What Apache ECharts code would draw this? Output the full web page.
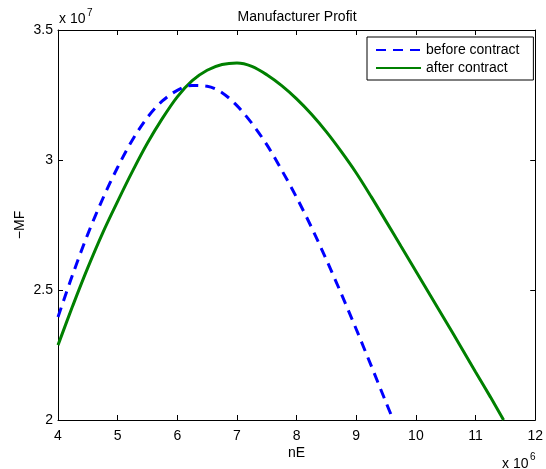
<!DOCTYPE html>
<html>
<head>
<meta charset="utf-8">
<script src="https://cdn.jsdelivr.net/npm/echarts@6/dist/echarts.min.js"></script>
<style>
  html, body { margin: 0; padding: 0; background: #fff; }
  #chart { width: 546px; height: 469px; }
</style>
</head>
<body>
<div id="chart"></div>
<script>
// nE in units of 10^6, MF in units of 10^7
const beforeNE = [4.0, 4.25, 4.5, 4.75, 5.0, 5.25, 5.5, 5.75, 6.0, 6.25, 6.5, 6.75, 7.0, 7.25, 7.5, 7.75, 8.0, 8.25, 8.5, 8.75, 9.0, 9.25, 9.5, 9.62];
const beforeMF = [2.396, 2.562, 2.715, 2.851, 2.972, 3.078, 3.164, 3.227, 3.268, 3.287, 3.284, 3.259, 3.209, 3.141, 3.059, 2.961, 2.856, 2.741, 2.616, 2.485, 2.349, 2.209, 2.067, 2.000];
const afterNE = [4.0, 4.25, 4.5, 4.75, 5.0, 5.25, 5.5, 5.75, 6.0, 6.25, 6.5, 6.75, 7.0, 7.25, 7.5, 7.75, 8.0, 8.25, 8.5, 8.75, 9.0, 9.25, 9.5, 9.75, 10.0, 10.25, 10.5, 10.75, 11.0, 11.25, 11.47];
const afterMF = [2.288, 2.441, 2.586, 2.720, 2.841, 2.957, 3.065, 3.160, 3.243, 3.305, 3.345, 3.367, 3.373, 3.360, 3.328, 3.286, 3.235, 3.176, 3.108, 3.032, 2.950, 2.859, 2.764, 2.668, 2.572, 2.476, 2.380, 2.283, 2.185, 2.088, 2.000];
const xTicks = [4, 5, 6, 7, 8, 9, 10, 11, 12];
const yTicks = [2, 2.5, 3, 3.5];
const seriesNames = ['before contract', 'after contract'];
const titleText = 'Manufacturer Profit';
const xName = 'nE';
const yName = '\u2212MF';
const xExp = '6';
const yExp = '7';

const FONT = '"Liberation Sans", Arial, sans-serif';
const chart = echarts.init(document.getElementById('chart'), null, { renderer: 'canvas' });

const axisCommon = {
  axisLine: { show: true, onZero: false, lineStyle: { color: '#000', width: 1 } },
  axisTick: { show: true, inside: true, length: 5, lineStyle: { color: '#000', width: 1 } },
  splitLine: { show: false }
};

const option = {
  animation: false,
  backgroundColor: '#fff',
  title: {
    text: titleText,
    left: 292,
    textAlign: 'center',
    top: 5,
    textStyle: { fontFamily: FONT, fontSize: 14, fontWeight: 'normal', color: '#000' }
  },
  grid: { left: 58, right: 10, top: 30, bottom: 49, containLabel: false },
  legend: {
    orient: 'vertical',
    left: 367,
    top: 37,
    padding: [6, 14, 5, 8],
    itemGap: 4,
    itemWidth: 45,
    itemHeight: 14,
    backgroundColor: '#fff',
    borderColor: '#000',
    borderWidth: 1,
    borderRadius: 0,
    itemStyle: { opacity: 0 },
    textStyle: { fontFamily: FONT, fontSize: 14, color: '#000' },
    data: seriesNames
  },
  xAxis: [
    Object.assign({
      type: 'value', position: 'bottom', min: xTicks[0], max: xTicks[xTicks.length - 1], interval: 1,
      name: xName, nameLocation: 'middle', nameGap: 26, nameMoveOverlap: false,
      nameTextStyle: { fontFamily: FONT, fontSize: 14, color: '#000' },
      axisLabel: { show: true, margin: 9, color: '#000', fontFamily: FONT, fontSize: 14 }
    }, axisCommon),
    Object.assign({
      type: 'value', position: 'top', min: xTicks[0], max: xTicks[xTicks.length - 1], interval: 1,
      axisLabel: { show: false }
    }, axisCommon)
  ],
  yAxis: [
    Object.assign({
      type: 'value', position: 'left', min: yTicks[0], max: yTicks[yTicks.length - 1], interval: 0.5,
      name: yName, nameLocation: 'middle', nameGap: 31, nameRotate: 90, nameMoveOverlap: false,
      nameTextStyle: { fontFamily: FONT, fontSize: 14, color: '#000' },
      axisLabel: { show: true, margin: 5, color: '#000', fontFamily: FONT, fontSize: 14 }
    }, axisCommon),
    Object.assign({
      type: 'value', position: 'right', min: yTicks[0], max: yTicks[yTicks.length - 1], interval: 0.5,
      axisLabel: { show: false }
    }, axisCommon)
  ],
  series: [
    {
      name: seriesNames[0],
      type: 'line',
      data: beforeNE.map((x, i) => [x, beforeMF[i]]),
      smooth: 0.33,
      symbol: 'none',
      clip: true,
      color: '#0000ff',
      lineStyle: { color: '#0000ff', width: 3, type: [10, 7], cap: 'butt' },
      z: 3
    },
    {
      name: seriesNames[1],
      type: 'line',
      data: afterNE.map((x, i) => [x, afterMF[i]]),
      smooth: 0.33,
      symbol: 'none',
      clip: true,
      color: '#008000',
      lineStyle: { color: '#008000', width: 3, type: 'solid' },
      z: 2
    }
  ],
  graphic: [
    { type: 'text', left: 59, top: 12, style: { text: 'x 10', font: '14px ' + FONT, fill: '#000' } },
    { type: 'text', left: 87, top: 8, style: { text: yExp, font: '10px ' + FONT, fill: '#000' } },
    { type: 'text', left: 502, top: 457, style: { text: 'x 10', font: '14px ' + FONT, fill: '#000' } },
    { type: 'text', left: 530, top: 452, style: { text: xExp, font: '10px ' + FONT, fill: '#000' } }
  ]
};
chart.setOption(option);
</script>
</body>
</html>
